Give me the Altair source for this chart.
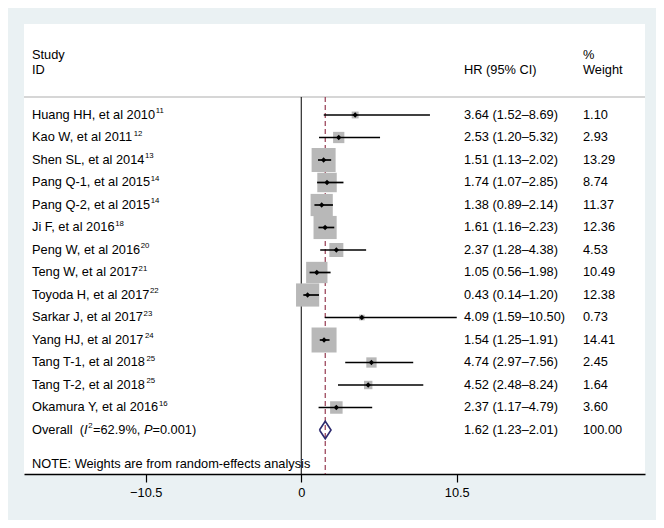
import altair as alt
import pandas as pd

# ---------------- data ----------------
studies = [
    "Huang HH, et al 2010", "Kao W, et al 2011", "Shen SL, et al 2014",
    "Pang Q-1, et al 2015", "Pang Q-2, et al 2015", "Ji F, et al 2016",
    "Peng W, et al 2016", "Teng W, et al 2017", "Toyoda H, et al 2017",
    "Sarkar J, et al 2017", "Yang HJ, et al 2017", "Tang T-1, et al 2018",
    "Tang T-2, et al 2018", "Okamura Y, et al 2016",
]
refs = ["11", "12", "13", "14", "14", "18", "20", "21", "22", "23", "24", "25", "25", "16"]
hr = [3.64, 2.53, 1.51, 1.74, 1.38, 1.61, 2.37, 1.05, 0.43, 4.09, 1.54, 4.74, 4.52, 2.37]
lo = [1.52, 1.20, 1.13, 1.07, 0.89, 1.16, 1.28, 0.56, 0.14, 1.59, 1.25, 2.97, 2.48, 1.17]
hi = [8.69, 5.32, 2.02, 2.85, 2.14, 2.23, 4.38, 1.98, 1.20, 10.50, 1.91, 7.56, 8.24, 4.79]
weight = [1.10, 2.93, 13.29, 8.74, 11.37, 12.36, 4.53, 10.49, 12.38, 0.73, 14.41, 2.45, 1.64, 3.60]

# overall label pieces: (text, style) ; style: n=normal, i=italic, s=superscript
overall_parts = [("Overall \u00a0(", "n"), ("I", "i"), ("2", "s"), ("=62.9%, ", "n"),
                 ("P", "i"), ("=0.001)", "n")]
overall_hr, overall_lo, overall_hi, overall_w = 1.62, 1.23, 2.01, 100.00
note_text = "NOTE: Weights are from random-effects analysis"
header_left = ["Study", "ID"]
header_mid = "HR (95% CI)"
header_right = ["%", "Weight"]
tick_values = [-10.5, 0, 10.5]

# ---------------- layout constants ----------------
W, H = 621, 450
FONT = "Liberation Sans"
FS = 12.8
SUP = 7.8
SUP_DY = -3.8
HEADER_ROW = -0.8
XDOM = [-18.72, 23.21]
xs = alt.Scale(domain=XDOM, nice=False, zero=False)
ys = alt.Scale(domain=[-4.0444, 15.9556], reverse=True, nice=False, zero=False)
LABEL_PX, HR_PX, W_PX = 8, 440, 559

# Arial / Liberation Sans advance widths (em) and main kerning pairs
_AW = {" ": .278, "\u00a0": .278, ",": .278, ".": .278, "-": .333, "(": .333, ")": .333,
       "=": .584, "%": .889, "A": .667, "B": .667, "C": .722, "D": .722, "E": .667,
       "F": .611, "G": .778, "H": .722, "I": .278, "J": .5, "K": .667, "L": .556,
       "M": .833, "N": .722, "O": .778, "P": .667, "Q": .778, "R": .722, "S": .667,
       "T": .611, "U": .722, "V": .667, "W": .944, "X": .667, "Y": .667, "Z": .611,
       "a": .556, "b": .556, "c": .5, "d": .556, "e": .556, "f": .278, "g": .556,
       "h": .556, "i": .222, "j": .222, "k": .5, "l": .222, "m": .833, "n": .556,
       "o": .556, "p": .556, "q": .556, "r": .333, "s": .5, "t": .278, "u": .556,
       "v": .5, "w": .722, "x": .5, "y": .5, "z": .5}
_KERN = {"Ta": -.111, "Te": -.111, "To": -.111, "F,": -.111, "W,": -.055,
         "Y,": -.129, "yo": 0.0, "L ": -.074, "P,": -.152}


def tw(s, size):
    w = sum(_AW.get(c, .556) for c in s)
    w += sum(_KERN.get(s[i:i + 2], 0) for i in range(len(s) - 1))
    return w * size


def px2x(px):
    return XDOM[0] + px / W * (XDOM[1] - XDOM[0])


# ---------------- tables ----------------
n = len(studies)
df = pd.DataFrame({"hr": hr, "lo": lo, "hi": hi, "weight": weight, "row": list(range(n))})

cols = pd.DataFrame({
    "hr_txt": [f"{a:.2f} ({b:.2f}–{c:.2f})" for a, b, c in zip(hr, lo, hi)]
              + [f"{overall_hr:.2f} ({overall_lo:.2f}–{overall_hi:.2f})"],
    "w_txt": [f"{w:.2f}" for w in weight] + [f"{overall_w:.2f}"],
    "row": list(range(n + 1)),
})

# label segments with computed positions
seg = []
for i, (s, r) in enumerate(zip(studies, refs)):
    seg.append({"t": s, "st": "n", "row": i, "x": px2x(LABEL_PX)})
    seg.append({"t": r, "st": "s", "row": i, "x": px2x(LABEL_PX + tw(s, FS) + 0.6)})
cur = LABEL_PX
for t, st in overall_parts:
    size = SUP if st == "s" else FS
    seg.append({"t": t, "st": st, "row": n, "x": px2x(cur + (0.8 if st == "s" else 0))})
    cur += tw(t, size) + (1.2 if st == "s" else 0)
seg = pd.DataFrame(seg)

half_h = 0.39  # diamond half-height in row units (style)
dia = pd.DataFrame({
    "x": [overall_lo, overall_hr, overall_hi, overall_hr, overall_lo],
    "row": [n, n - half_h, n, n + half_h, n],
    "o": [0, 1, 2, 3, 4],
})
ovr = pd.DataFrame({"hr": [overall_hr]})
one = alt.Data(values=[{}])

xaxis = alt.Axis(values=tick_values, title=None, grid=False, tickSize=8,
                 tickColor="black", domainColor="black", domainWidth=1.3,
                 tickWidth=1.2, labelColor="black", labelFontSize=FS,
                 labelFont=FONT, labelPadding=4,
                 labelExpr="datum.value === 0 ? '0' : (datum.value < 0 ? '−' : '') + format(abs(datum.value), '.1f')")

header_line = alt.Chart(one).mark_rule(color="#C8C8C8", strokeWidth=1.5).encode(
    x=alt.value(0), x2=alt.value(W), y=alt.Y(datum=HEADER_ROW, type="quantitative", scale=ys, axis=None))

zero_line = alt.Chart(one).mark_rule(color="black", strokeWidth=1).encode(
    x=alt.X(datum=0, type="quantitative", scale=xs, axis=xaxis),
    y=alt.Y(datum=HEADER_ROW, type="quantitative", scale=ys, axis=None),
    y2=alt.value(H))

ovr_line = alt.Chart(ovr).mark_rule(color="#963A50", strokeWidth=1.2, strokeDash=[5, 3]).encode(
    x=alt.X("hr:Q", scale=xs),
    y=alt.Y(datum=HEADER_ROW, type="quantitative", scale=ys, axis=None),
    y2=alt.value(H))

boxes = alt.Chart(df).mark_square(color="#B8B8B8", opacity=1, strokeWidth=0).encode(
    x=alt.X("hr:Q", scale=xs),
    y=alt.Y("row:Q", scale=ys, axis=None),
    size=alt.Size("weight:Q", scale=alt.Scale(domain=[0, 14.41], range=[0, 625]), legend=None))

ci = alt.Chart(df).mark_rule(color="black", strokeWidth=1.7).encode(
    x=alt.X("lo:Q", scale=xs), x2="hi:Q", y=alt.Y("row:Q", scale=ys, axis=None))

pts = alt.Chart(df).mark_point(shape="diamond", filled=True, color="black", size=28, opacity=1).encode(
    x=alt.X("hr:Q", scale=xs), y=alt.Y("row:Q", scale=ys, axis=None))

diamond = alt.Chart(dia).mark_line(color="#2E2B6F", strokeWidth=1.6).encode(
    x=alt.X("x:Q", scale=xs), y=alt.Y("row:Q", scale=ys, axis=None), order="o:Q")


def seg_layer(st, size, dy=0, style="normal"):
    return alt.Chart(seg).transform_filter(alt.datum.st == st).mark_text(
        align="left", baseline="middle", font=FONT, fontSize=size, fontStyle=style,
        dy=dy, color="black").encode(
        x=alt.X("x:Q", scale=xs), y=alt.Y("row:Q", scale=ys, axis=None), text="t:N")


def tcol(field, xpx):
    return alt.Chart(cols).mark_text(align="left", baseline="middle", font=FONT,
                                      fontSize=FS, color="black").encode(
        x=alt.value(xpx), y=alt.Y("row:Q", scale=ys, axis=None), text=f"{field}:N")


def label(text, xpx, ypx):
    return alt.Chart(one).mark_text(align="left", baseline="middle", font=FONT,
                                     fontSize=FS, color="black").encode(
        x=alt.value(xpx), y=alt.value(ypx), text=alt.value(text))


note = alt.Chart(one).mark_text(align="left", baseline="middle", font=FONT,
                                 fontSize=FS, color="black").encode(
    x=alt.value(LABEL_PX), y=alt.Y(datum=n + 1.5, type="quantitative", scale=ys, axis=None),
    text=alt.value(note_text))

chart = alt.layer(
    header_line, zero_line, ovr_line, boxes, ci, pts, diamond,
    seg_layer("n", FS), seg_layer("i", FS, style="italic"), seg_layer("s", SUP, SUP_DY),
    tcol("hr_txt", HR_PX), tcol("w_txt", W_PX),
    label(header_left[0], LABEL_PX, 31), label(header_left[1], LABEL_PX, 46),
    label(header_mid, HR_PX, 46),
    label(header_right[0], W_PX, 31), label(header_right[1], W_PX, 46),
    note,
).properties(
    width=W, height=H,
    autosize=alt.AutoSizeParams(type="none"),
    padding={"left": 16, "top": 16, "right": 11, "bottom": 46},
    background="#EAF1F3",
).configure_view(fill="white", stroke=None)

chart.save("out.html", embed_options={"renderer": "svg", "actions": False})
